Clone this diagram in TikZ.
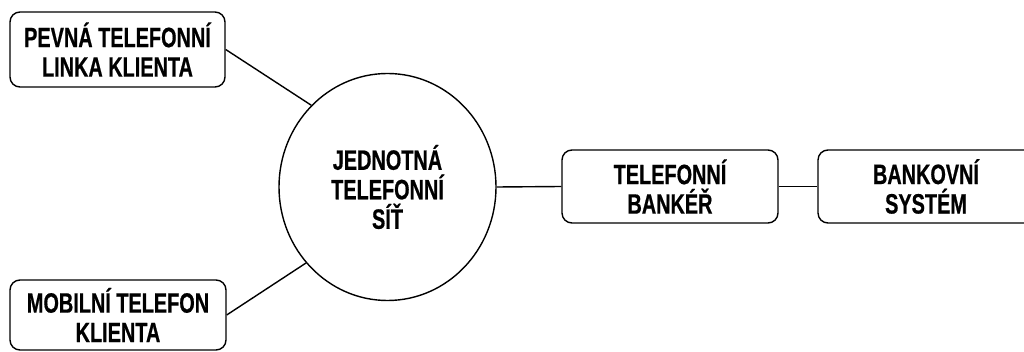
\documentclass[tikz,border=0pt]{standalone}
\usepackage{fontspec}
\setmainfont{Liberation Sans}[FakeStretch=0.71, FakeBold=0.6]
\usetikzlibrary{shapes.geometric}
\begin{document}
\begin{tikzpicture}[x=1pt, y=-1pt, line width=1.4pt,
  lbl/.style={font=\fontsize{28}{29.5}\selectfont\bfseries, align=center, inner sep=0pt},
  box/.style={lbl, draw, rounded corners=10pt, minimum width=216pt, minimum height=73pt},
  hub/.style={lbl, draw, ellipse, minimum width=217pt, minimum height=227pt}]
\useasboundingbox (0,0) rectangle (1024,352);

% client side
\node[box, minimum width=215pt, minimum height=75pt] (fix) at (117.5,49.5) {PEVNÁ TELEFONNÍ\\LINKA KLIENTA};
\node[box, minimum height=70pt] (mob) at (118,315) {MOBILNÍ TELEFON\\KLIENTA};

% network
\node[hub] (net) at (387.5,187) {JEDNOTNÁ\\TELEFONNÍ\\SÍŤ};

% bank side
\node[box] (bank) at (670,186.5) {TELEFONNÍ\\BANKÉŘ};
\node[box] (sys) at (926,186.5) {BANKOVNÍ\\SYSTÉM};

% links
\draw (fix.east) -- (net.133);
\draw (mob.east) -- (net.223);
\draw (net.east) -- (bank.west);
\draw (bank.east) -- (sys.west);
\end{tikzpicture}
\end{document}
